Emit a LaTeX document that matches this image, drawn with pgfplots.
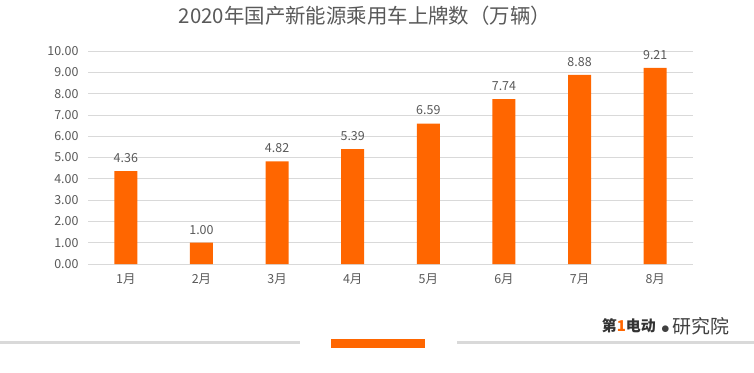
\documentclass[border=0pt]{standalone}
\usepackage{pgfplots}
\pgfplotsset{compat=1.18}
\usepackage{fontspec}
\setmainfont{Noto Sans CJK SC}
\definecolor{barorange}{HTML}{FF6600}
\definecolor{txtgray}{HTML}{595959}
\definecolor{gridgray}{HTML}{D9D9D9}
\definecolor{titlegray}{HTML}{595959}
\begin{document}
\begin{tikzpicture}[x=1bp,y=1bp]
\path[use as bounding box] (0,0) rectangle (754,372);
\node[font=\fontsize{20.5}{23}\selectfont, text=titlegray] at (365,356) {2020年国产新能源乘用车上牌数（万辆）};
\begin{axis}[
  at={(88bp,108bp)}, anchor=south west,
  scale only axis, width=605bp, height=213bp,
  xmin=-0.5, xmax=7.5, ymin=0, ymax=10,
  ytick={0,1,...,10},
  xtick={0,...,7},
  xticklabels={1月,2月,3月,4月,5月,6月,7月,8月},
  axis line style={draw=none},
  major tick length=0pt,
  ymajorgrids, grid style={gridgray, line width=0.8pt},
  /pgf/number format/assume math mode=true,
  yticklabel={\pgfmathprintnumber[fixed,fixed zerofill,precision=2]{\tick}},
  tick label style={text=txtgray, font=\fontsize{12.5}{14}\selectfont},
  yticklabel style={xshift=-6bp},
  xticklabel style={yshift=-6bp},
  clip=false,
]
\addplot[ybar, bar width=23bp, fill=barorange, draw=none,
  nodes near coords,
  nodes near coords style={text=txtgray, font=\fontsize{12.5}{14}\selectfont, yshift=5bp,
    /pgf/number format/.cd, fixed, fixed zerofill, precision=2},
  point meta=y,
] coordinates {(0,4.36) (1,1.00) (2,4.82) (3,5.39) (4,6.59) (5,7.74) (6,8.88) (7,9.21)};
\end{axis}
\fill[gridgray] (0,28.5) rectangle (300,31.5);
\fill[gridgray] (457,28.5) rectangle (754,31.5);
\fill[barorange] (331,24) rectangle (425,33);
\node[anchor=east, font=\fontsize{15}{17}\selectfont\bfseries, text=black!80, inner sep=0] at (656,46) {第{\color{barorange}1}电动};
\node[anchor=west, font=\fontsize{19}{21}\selectfont, text=black!75, inner sep=0] at (661,46) {$\bullet$\,研究院};
\end{tikzpicture}
\end{document}
